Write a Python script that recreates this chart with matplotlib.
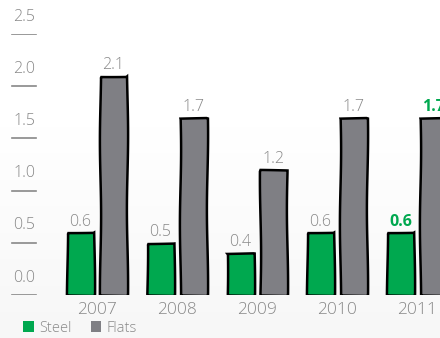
import numpy as np
import matplotlib
matplotlib.use("Agg")
import matplotlib.pyplot as plt
from matplotlib.patches import Patch

years = ["2007", "2008", "2009", "2010", "2011"]
steel = [0.6, 0.5, 0.4, 0.6, 0.6]
flats = [2.1, 1.7, 1.2, 1.7, 1.7]
yticks = [0.0, 0.5, 1.0, 1.5, 2.0, 2.5]

green = "#00a84f"
grey_bar = "#7f7f84"
grey_txt = "#888888"

plt.rcParams["font.family"] = ["Open Sans", "DejaVu Sans"]

fig = plt.figure(figsize=(4.4, 3.38), dpi=100)

# faint background gradient (white at top, light grey at bottom)
bg = fig.add_axes([0, 0, 1, 1], zorder=-10)
grad = np.ones((338, 1))
grad[100:] = np.linspace(1.0, 0.965, 238)[:, None]
bg.imshow(grad, cmap="gray", vmin=0, vmax=1, aspect="auto", extent=[0, 1, 0, 1])
bg.axis("off")

ax = fig.add_axes([0, 43 / 338, 1, 261 / 338])
ax.patch.set_alpha(0)
x = np.arange(len(years))
w = 0.3375
off = 0.206
ax.set_xlim(-1.2125, 4.2875)
ax.set_ylim(0, 2.5)

b1 = ax.bar(x - off, steel, w, color=green, edgecolor="black", linewidth=1.8)
b2 = ax.bar(x + off, flats, w, color=grey_bar, edgecolor="black", linewidth=1.8)
for b in list(b1) + list(b2):
    b.set_sketch_params(0.6, 150, 1)

for i in range(len(years)):
    last = i == len(years) - 1
    c = green if last else grey_txt
    fw = "bold" if last else "light"
    ax.annotate(f"{steel[i]:.1f}", (x[i] - off, steel[i]), xytext=(0, 2),
                textcoords="offset points", ha="center", va="bottom",
                fontsize=11.5, color=c, fontweight=fw, annotation_clip=False)
    ax.annotate(f"{flats[i]:.1f}", (x[i] + off, flats[i]), xytext=(0, 2),
                textcoords="offset points", ha="center", va="bottom",
                fontsize=11.5, color=c, fontweight=fw, annotation_clip=False)

# y labels with short underline
trans = ax.get_yaxis_transform()
for v in yticks:
    ax.axhline(v, xmin=12 / 440, xmax=36 / 440, color=grey_txt, linewidth=1.2)
    ax.annotate(f"{v:.1f}", (24 / 440, v), xycoords=trans, xytext=(0, 12.5),
                textcoords="offset points", ha="center", va="center",
                fontsize=11.5, color=grey_txt, fontweight="light",
                annotation_clip=False)

ax.set_xticks(x)
ax.set_xticklabels(years, fontsize=12.5, color=grey_txt, fontweight="light")
ax.tick_params(axis="x", length=0, pad=5)
ax.set_yticks([])
for s in ax.spines.values():
    s.set_visible(False)

handles = [Patch(facecolor=green, edgecolor="none", label="Steel"),
           Patch(facecolor=grey_bar, edgecolor="none", label="Flats")]
leg = fig.legend(handles=handles, loc="center left", bbox_to_anchor=(0.04, 10 / 338),
                 ncol=2, frameon=False, handlelength=0.7, handleheight=0.7,
                 handletextpad=0.4, columnspacing=1.3, borderaxespad=0,
                 prop={"size": 10.5, "weight": "light"})
for t in leg.get_texts():
    t.set_color(grey_txt)

fig.savefig("out.png", dpi=100)
